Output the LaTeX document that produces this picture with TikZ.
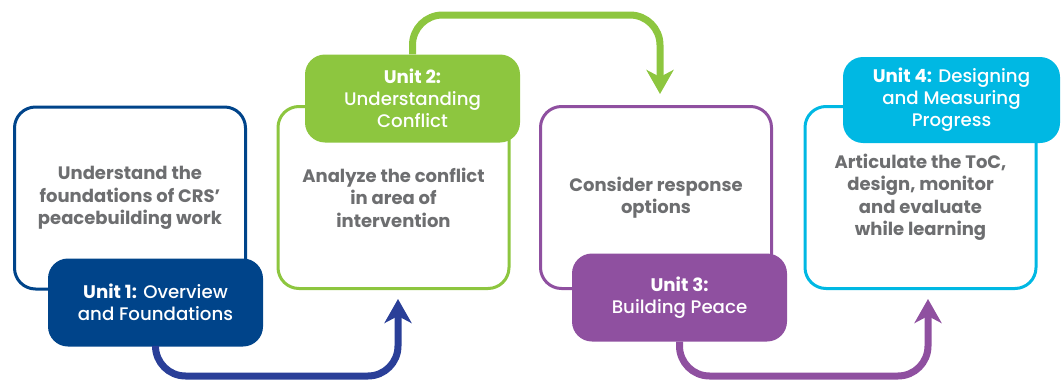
\documentclass[tikz,border=0pt]{standalone}
\usepackage{fontspec}
\setmainfont{Poppins}
\newfontfamily\labelface{Poppins}[UprightFont={* Medium}, BoldFont={* Bold}]
\usetikzlibrary{arrows.meta}
\definecolor{navy}{HTML}{00448A}
\definecolor{arrblue}{HTML}{2A3F98}
\definecolor{leaf}{HTML}{8DC63F}
\definecolor{plum}{HTML}{8F50A0}
\definecolor{sky}{HTML}{00B8E3}
\definecolor{txtgray}{HTML}{6D6E70}
\newcommand\bodyfnt{\fontsize{18}{22.5}\selectfont\bfseries}
\newcommand\labelfnt{\labelface\fontsize{18.2}{22}\selectfont}
\tikzset{
  outline/.style={draw, line width=3pt, rounded corners=21pt, fill=white,
    minimum width=231pt, minimum height=182pt, align=center,
    text=txtgray, font=\bodyfnt, inner sep=0pt},
  unitlabel/.style={rounded corners=20pt, text=white, minimum width=215pt,
    minimum height=88pt, align=center, font=\labelfnt, inner sep=0pt},
  arr/.style={line width=7pt, rounded corners=30pt,
    -{Stealth[length=24pt,width=27pt,inset=7pt]}}
}
\begin{document}
\begin{tikzpicture}[x=1pt,y=-1pt]
\useasboundingbox (0,0) rectangle (1061,380);
% outline boxes
\node[outline, draw=navy] (u1o) at (130,198) {Understand the\\foundations of CRS’\\peacebuilding work};
\node[outline, draw=leaf] (u2o) at (393.5,197.5) {Analyze the conflict\\in area of\\intervention};
\node[outline, draw=plum] (u3o) at (656,197.5) {Consider response\\options};
\node[outline, draw=sky] (u4o) at (920.5,197.5) {Articulate the ToC,\\design, monitor\\and evaluate\\while learning};
% unit labels
\node[unitlabel, fill=navy] (u1l) at (155.5,302.5) {\textbf{Unit 1:} Overview\\and Foundations};
\node[unitlabel, fill=leaf] (u2l) at (412.5,98.5) {\textbf{Unit 2:}\\Understanding\\Conflict};
\node[unitlabel, fill=plum] (u3l) at (679.5,297.5) {\textbf{Unit 3:}\\Building Peace};
\node[unitlabel, fill=sky, minimum width=217pt, minimum height=86pt] (u4l) at (951.5,100) {\textbf{Unit 4:} Designing\\and Measuring\\Progress};
% connector coordinates
\coordinate (b1) at (398,376);
\coordinate (b2) at (398,299);
\coordinate (g1) at (660,15);
\coordinate (g2) at (660,94);
\coordinate (p1) at (928,376);
\coordinate (p2) at (928,299);
% arrows
\draw[arr, draw=arrblue] (u1l.south) |- (b1) -- (b2);
\draw[arr, draw=leaf] (u2l.north) |- (g1) -- (g2);
\draw[arr, draw=plum] (u3l.south) |- (p1) -- (p2);
\end{tikzpicture}
\end{document}
